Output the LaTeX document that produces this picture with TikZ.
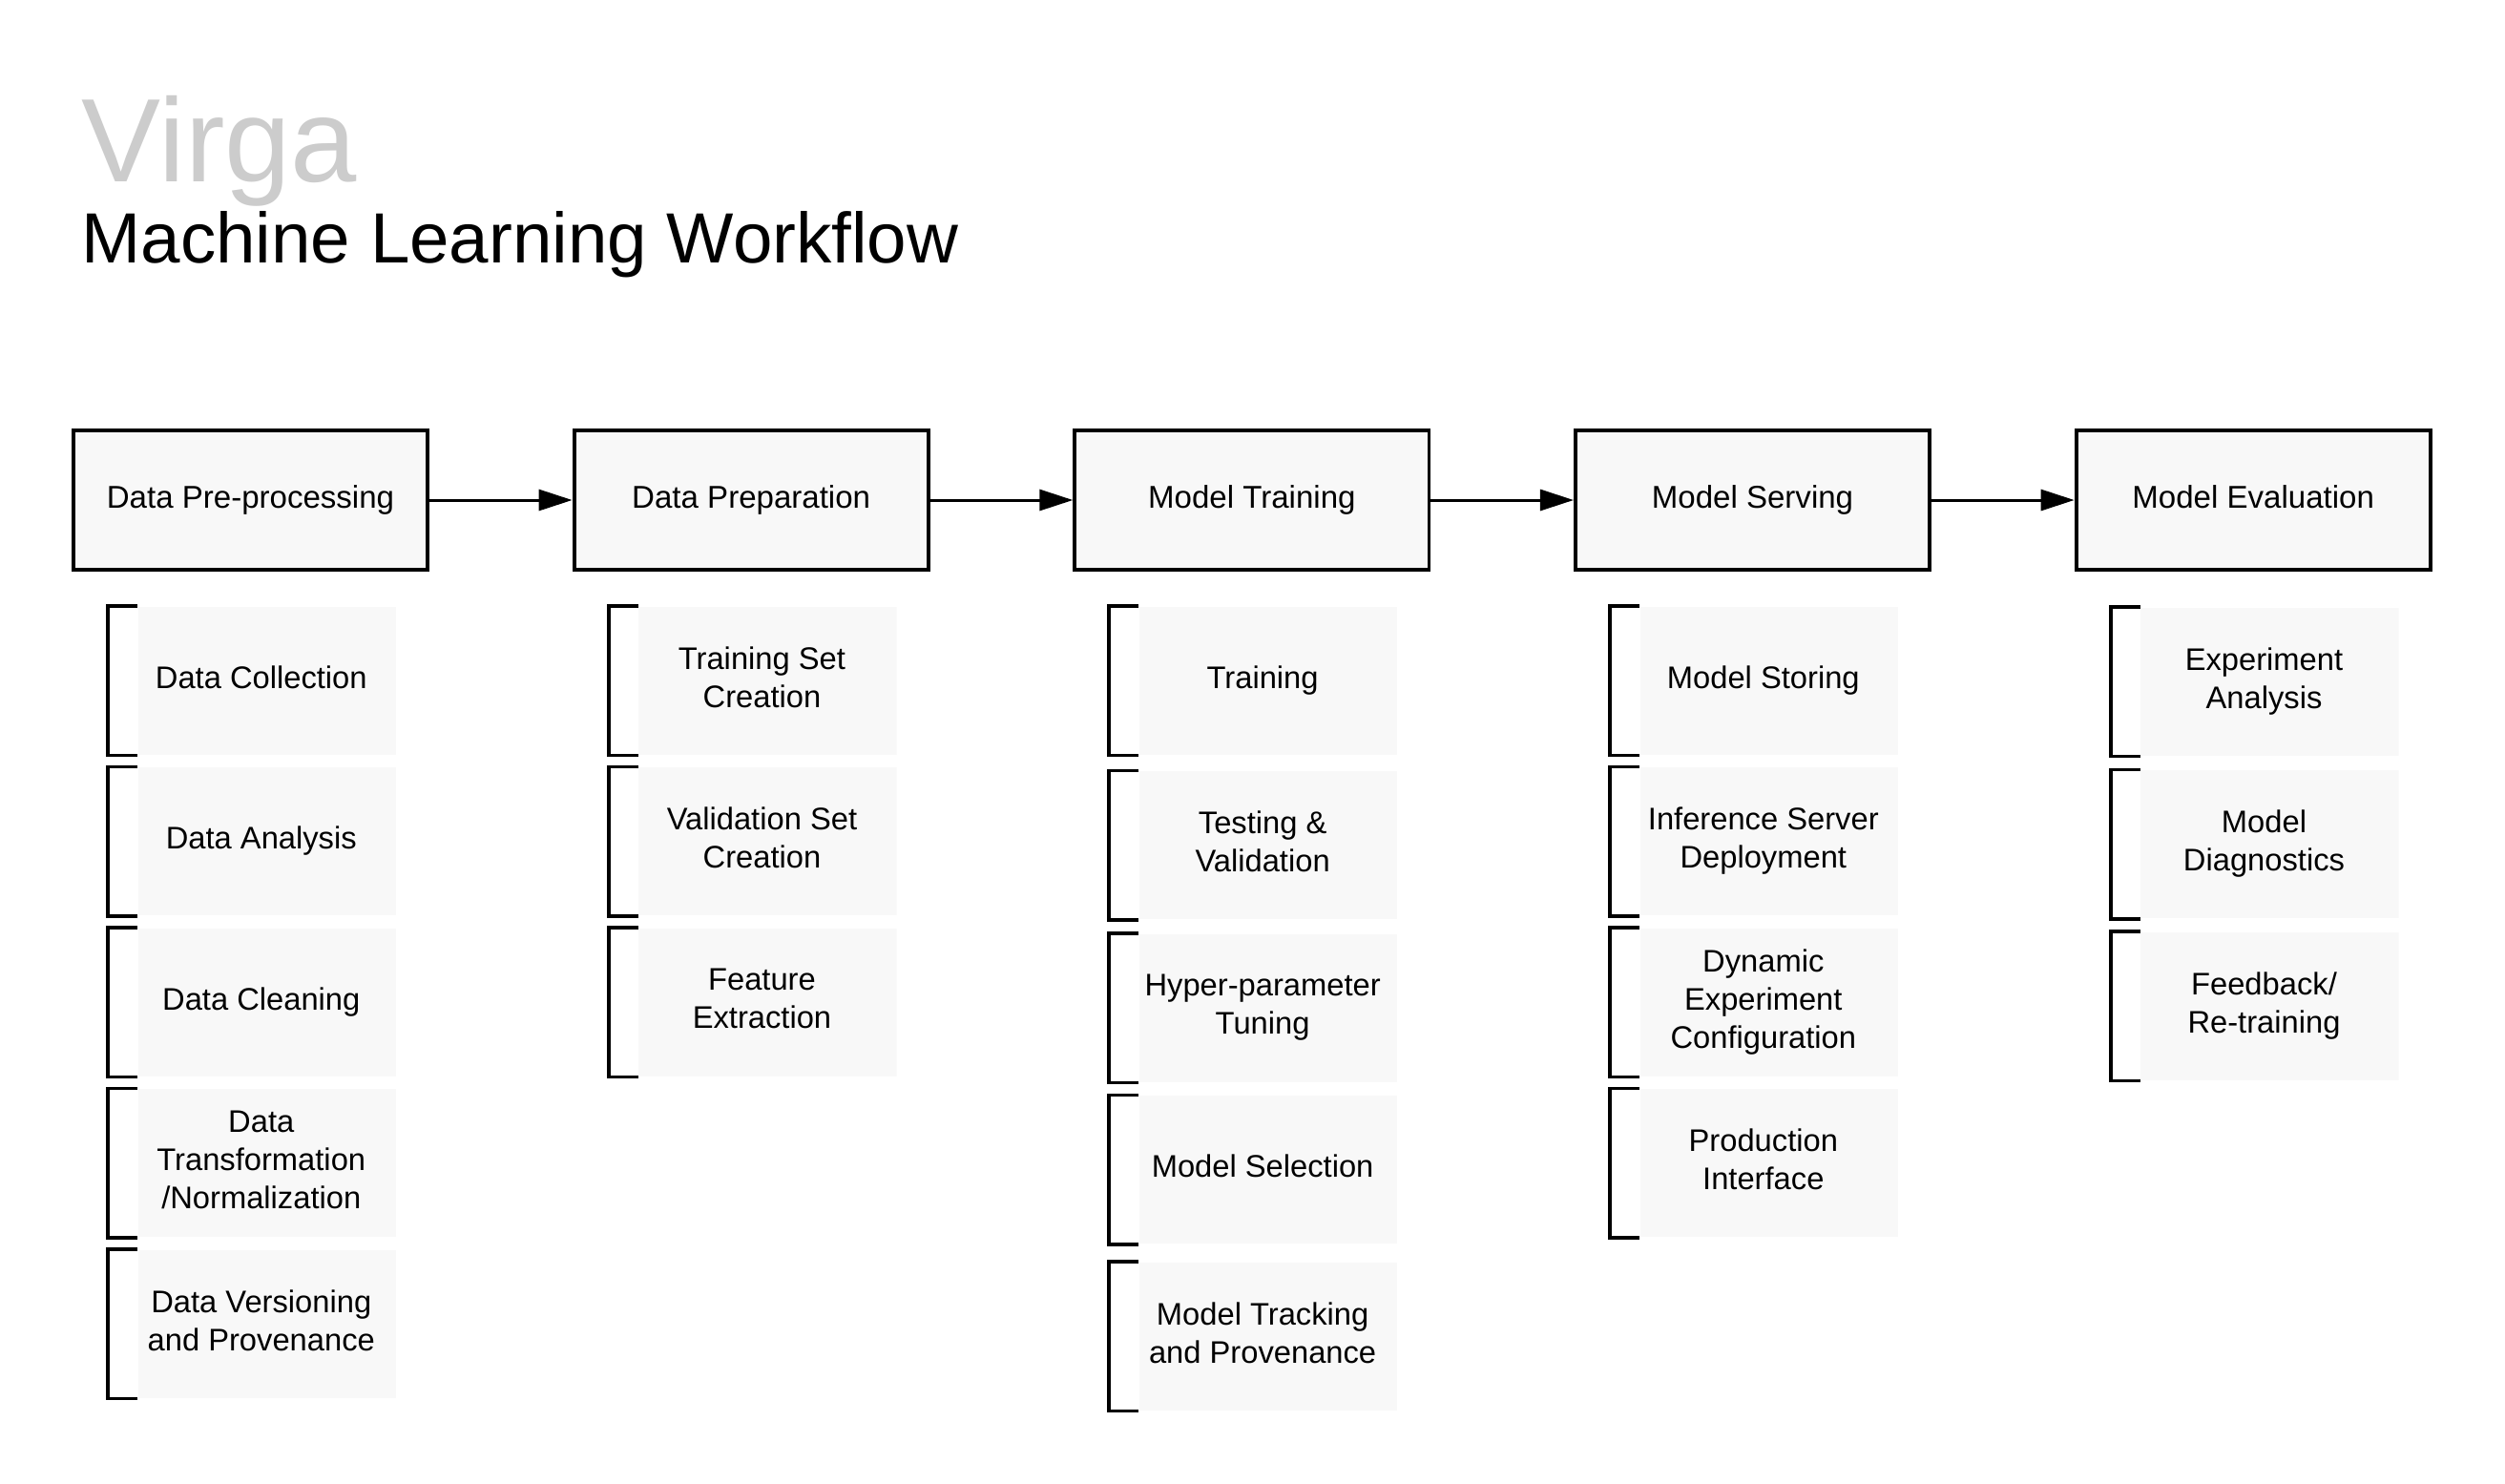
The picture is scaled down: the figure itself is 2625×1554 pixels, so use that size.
\documentclass[tikz,border=0pt]{standalone}
\usepackage{fontspec}
\setmainfont{Liberation Sans}
\usetikzlibrary{arrows.meta,positioning}
\definecolor{Paper}{HTML}{F8F8F8}
\definecolor{Mist}{HTML}{CCCCCC}

\begin{document}
\begin{tikzpicture}[x=0.01cm,y=-0.01cm,node distance=1.2mm,
stage/.style={draw=black,line width=1.1pt,fill=Paper,minimum width=3.71cm,minimum height=1.46cm,inner sep=0pt,text depth=2.2pt,font=\fontsize{9.4}{11.4}\selectfont},
task/.style={minimum width=2.82cm,minimum height=1.55cm,inner sep=0pt,align=center,text depth=2.2pt,font=\fontsize{9.3}{11.4}\selectfont,
  path picture={\fill[Paper]([xshift=.12cm]path picture bounding box.south west) rectangle (path picture bounding box.north east);},
  append after command={\pgfextra{\draw[line width=1.1pt]([xshift=.12cm]\tikzlastnode.north west)--++(-.31cm,0)|-([xshift=.12cm]\tikzlastnode.south west);}}},
arrow/.style={-{Triangle[length=3.5mm,width=2.2mm]},line width=.85pt}]
\useasboundingbox (0,0) rectangle (2625,1554);
% title
\node[anchor=base west,inner sep=0pt,text=Mist,font=\fontsize{35.4}{42}\selectfont](brand) at (85,190){Virga};
\node[anchor=base west,inner sep=0pt,font=\fontsize{21.2}{25}\selectfont](title) at (85,275){Machine Learning Workflow};
% stages
\node[stage](prep) at (262.5,524){Data Pre-processing};
\node[stage,right=1.495cm of prep](dprep){Data Preparation};
\node[stage,right=1.495cm of dprep](train){Model Training};
\node[stage,right=1.495cm of train](serve){Model Serving};
\node[stage,right=1.495cm of serve](eval){Model Evaluation};
\draw[arrow](prep)--(dprep);\draw[arrow](dprep)--(train);\draw[arrow](train)--(serve);\draw[arrow](serve)--(eval);
% pre-processing tasks
\node[task,below=3.6mm of prep.south west,anchor=north west,xshift=5.7mm](collect){Data Collection};
\node[task,below=of collect](analysis){Data Analysis};
\node[task,below=of analysis](clean){Data Cleaning};
\node[task,below=of clean](transform){Data\\Transformation\\/Normalization};
\node[task,below=of transform](dversion){Data Versioning\\and Provenance};
% preparation tasks
\node[task,below=3.6mm of dprep.south west,anchor=north west,xshift=5.7mm](trainset){Training Set\\Creation};
\node[task,below=of trainset](valset){Validation Set\\Creation};
\node[task,below=of valset](feature){Feature\\Extraction};
% training tasks
\node[task,below=3.6mm of train.south west,anchor=north west,xshift=5.7mm](fit){Training};
\node[task,below=1.6mm of fit](testing){Testing \&\\Validation};
\node[task,below=1.4mm of testing](tuning){Hyper-parameter\\Tuning};
\node[task,below=1.3mm of tuning](select){Model Selection};
\node[task,below=1.8mm of select](track){Model Tracking\\and Provenance};
% serving tasks
\node[task,below=3.6mm of serve.south west,anchor=north west,xshift=5.7mm](store){Model Storing};
\node[task,below=of store](infer){Inference Server\\Deployment};
\node[task,below=of infer](config){Dynamic\\Experiment\\Configuration};
\node[task,below=of config](prod){Production\\Interface};
% evaluation tasks
\node[task,below=3.7mm of eval.south west,anchor=north west,xshift=5.7mm](expt){Experiment\\Analysis};
\node[task,below=1.4mm of expt](diag){Model\\Diagnostics};
\node[task,below=1.3mm of diag](feedback){Feedback/\\Re-training};
\end{tikzpicture}
\end{document}
